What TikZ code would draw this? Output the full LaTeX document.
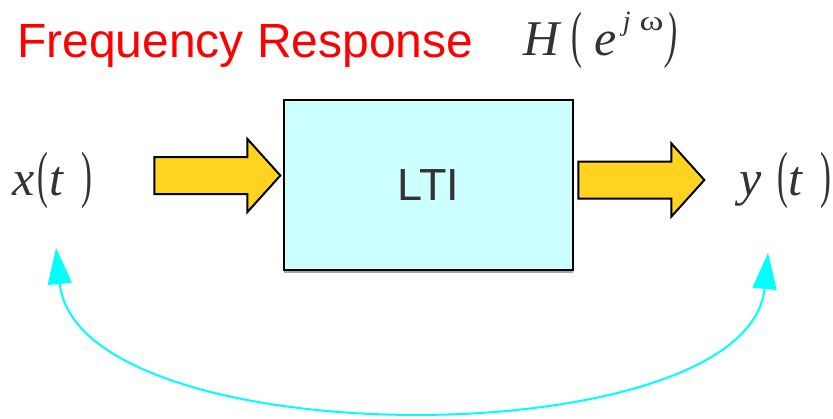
\documentclass[tikz,border=0pt]{standalone}
\usepackage{fontspec}
\setmainfont{Liberation Sans}
\newfontfamily\serifmath{Liberation Serif}
\usetikzlibrary{arrows.meta,shapes.arrows,shadows}
\definecolor{boxfill}{HTML}{CCFFFF}
\definecolor{arrowfill}{HTML}{FFD320}
\definecolor{ink}{HTML}{333333}
\definecolor{loopcyan}{HTML}{00FFFF}
% thin, tall parentheses for the signal expressions
\newcommand\tallLP{\scalebox{0.65}[1.25]{(}}
\newcommand\tallRP{\scalebox{0.65}[1.25]{)}}

\begin{document}
\begin{tikzpicture}[x=1pt,y=-1pt,
  blockarrow/.style={single arrow, draw=black, line width=2pt, fill=arrowfill,
    inner xsep=0pt, inner ysep=17.5pt, single arrow head extend=18pt,
    single arrow tip angle=96, minimum height=126pt, anchor=center},
  ltibox/.style={draw=black, line width=2pt, fill=boxfill,
    minimum width=289pt, minimum height=170pt, inner sep=0pt,
    text=ink, font=\fontsize{45}{45}\selectfont,
    drop shadow={shadow xshift=0pt, shadow yshift=-2.5pt, fill=gray!70, opacity=1}},
  signal/.style={anchor=base west, inner sep=0pt, text=ink,
    font=\serifmath\fontsize{50}{52}\selectfont},
  feedback/.style={draw=loopcyan, line width=2pt,
    {Triangle[length=36pt,width=24pt]}-{Triangle[length=36pt,width=24pt]}}
]
\useasboundingbox (0,0) rectangle (833,418);

% title and transfer function
\node[anchor=base west, inner sep=0pt, text=red,
  font=\fontsize{48}{50}\selectfont] (title) at (17,57) {Frequency Response};
\node[signal] (hjw) at (523,55)
  {\itshape H\kern12.5pt\upshape\tallLP\kern12pt\itshape e\kern6pt%
   \raisebox{25pt}{\fontsize{28}{28}\selectfont\itshape j\kern9pt\upshape\scalebox{1.3}[1]{ω}}%
   \kern2.5pt\tallRP};

% system block
\node[ltibox] (lti) at (428.5,185) {LTI};

% input and output arrows
\node[blockarrow] (inarrow) at (209,175.5) {};
\node[blockarrow] (outarrow) at (633,180) {};

% signals
\node[signal] (xt) at (12,195)
  {\itshape x\kern3pt\upshape\tallLP\kern1.2pt\itshape t\kern18pt\upshape\tallRP};
\node[signal] (yt) at (739,195)
  {\itshape y\kern16pt\upshape\tallLP\kern0pt\itshape t\kern18pt\upshape\tallRP};

% relation between input and output
\coordinate (xend) at (56,248);
\coordinate (yend) at (768,253);
\draw[feedback] (xend) .. controls (78,458) and (748,458) .. (yend);
\end{tikzpicture}
\end{document}
